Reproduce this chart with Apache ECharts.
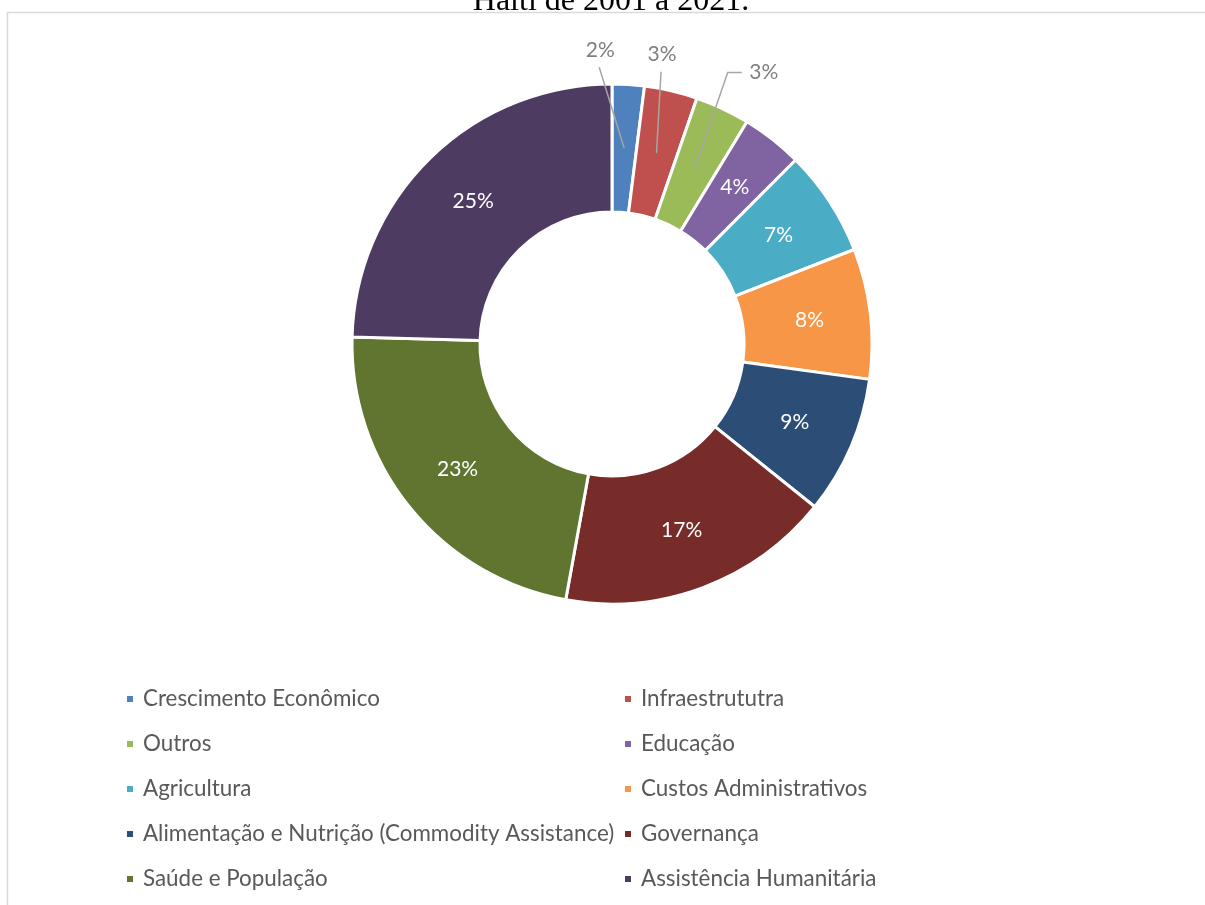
<!DOCTYPE html>
<html>
<head>
<meta charset="utf-8">
<script src="https://cdn.jsdelivr.net/npm/echarts@6/dist/echarts.min.js"></script>
<style>
  html, body { margin: 0; padding: 0; background: #ffffff; }
  #chart { width: 1205px; height: 905px; }
</style>
</head>
<body>
<div id="chart"></div>
<script>
// Sectors of aid to Haiti, 2001–2021 (share of total, %)
const categories = [
  'Crescimento Econômico',
  'Infraestrututra',
  'Outros',
  'Educação',
  'Agricultura',
  'Custos Administrativos',
  'Alimentação e Nutrição (Commodity Assistance)',
  'Governança',
  'Saúde e População',
  'Assistência Humanitária'
];
const shares = [2.0, 3.3, 3.4, 3.8, 6.6, 8.1, 8.6, 17.1, 22.6, 24.6];
const colors = ['#4F81BD', '#C0504D', '#9BBB59', '#8064A2', '#4BACC6',
                '#F79646', '#2C4D75', '#772C2A', '#5F7530', '#4D3B62'];
const titleText = 'Haiti de 2001 a 2021.';

// Legend columns (indices into categories)
const legendLeft = [0, 2, 4, 6, 8].map(i => categories[i]);
const legendRight = [1, 3, 5, 7, 9].map(i => categories[i]);

// Ring geometry (pixels)
const CX = 612, CY = 344, R_IN = 132, R_OUT = 260;

// Small slices get their labels outside, with a leader line from the ring.
// angle: degrees clockwise from 12 o'clock, dist: from the centre,
// line: extra points relative to the label centre
const callouts = {
  0: { angle: -2.3, dist: 294, line: [[-1, 17]] },
  1: { angle: 9.8,  dist: 294, line: [[-1, 17.5]] },
  2: { angle: 29.2, dist: 311, line: [[-36, 0], [-22, 0]] }
};
const calloutIdx = Object.keys(callouts).map(Number);

const total = shares.reduce((a, b) => a + b, 0);
function polar(deg, r) {
  const t = deg * Math.PI / 180;
  return [CX + r * Math.sin(t), CY - r * Math.cos(t)];
}
function midAngle(i) {
  let before = 0;
  for (let k = 0; k < i; k++) before += shares[k];
  return (before + shares[i] / 2) / total * 360;
}
function leaderPoints(i) {
  const c = callouts[i];
  const [lx, ly] = polar(c.angle, c.dist);
  const start = polar(midAngle(i), (R_IN + R_OUT) / 2);
  return [start].concat(c.line.map(d => [lx + d[0], ly + d[1]]));
}

const FONT = 'Lato, "Open Sans", sans-serif';

const pieData = categories.map((name, i) => {
  const item = { name, value: shares[i], itemStyle: { color: colors[i] } };
  if (callouts[i]) {
    item.label = { position: 'outside', color: '#7f7f7f' };
  }
  return item;
});

const legendBase = {
  orient: 'vertical',
  top: 687,
  padding: 0,
  itemGap: 21,
  icon: 'rect',
  itemWidth: 8,
  itemHeight: 8,
  selectedMode: false,
  textStyle: {
    fontFamily: FONT,
    fontSize: 22.4,
    lineHeight: 24,
    color: '#595959',
    padding: [0, 0, 0, 4]
  }
};

const chart = echarts.init(document.getElementById('chart'), null, { renderer: 'canvas' });
chart.setOption({
  backgroundColor: '#ffffff',
  animation: false,
  graphic: [
    {
      type: 'rect',
      z: -10,
      silent: true,
      shape: { x: 7.5, y: 12.5, width: 1400, height: 1100 },
      style: { fill: 'none', stroke: '#d9d9d9', lineWidth: 1.5 }
    },
    {
      type: 'text',
      silent: true,
      style: {
        text: titleText,
        x: 611,
        y: 2,
        align: 'center',
        verticalAlign: 'middle',
        font: '32px "Liberation Serif", "Times New Roman", serif',
        fill: '#000000'
      }
    }
  ],
  legend: [
    Object.assign({}, legendBase, { left: 125, data: legendLeft }),
    Object.assign({}, legendBase, { left: 623, data: legendRight })
  ],
  series: [
    {
      type: 'pie',
      center: [CX, CY],
      radius: [R_IN, R_OUT],
      startAngle: 90,
      clockwise: true,
      avoidLabelOverlap: false,
      emphasis: { disabled: true },
      itemStyle: { borderColor: '#ffffff', borderWidth: 3 },
      label: {
        show: true,
        position: 'inside',
        color: '#ffffff',
        fontFamily: FONT,
        fontSize: 21,
        formatter: p => Math.round(p.value) + '%'
      },
      labelLine: { show: false },
      labelLayout: function (params) {
        const c = callouts[params.dataIndex];
        if (!c) return {};
        const [lx, ly] = polar(c.angle, c.dist);
        return { x: lx, y: ly, align: 'center', verticalAlign: 'middle' };
      },
      data: pieData
    },
    {
      // leader lines for the outside labels, drawn over the ring
      type: 'custom',
      coordinateSystem: 'none',
      silent: true,
      z: 5,
      data: calloutIdx.map(i => [i]),
      renderItem: function (params, api) {
        return {
          type: 'polyline',
          shape: { points: leaderPoints(api.value(0)) },
          style: { stroke: '#a6a6a6', lineWidth: 1.5, fill: null }
        };
      }
    }
  ]
});
</script>
</body>
</html>
